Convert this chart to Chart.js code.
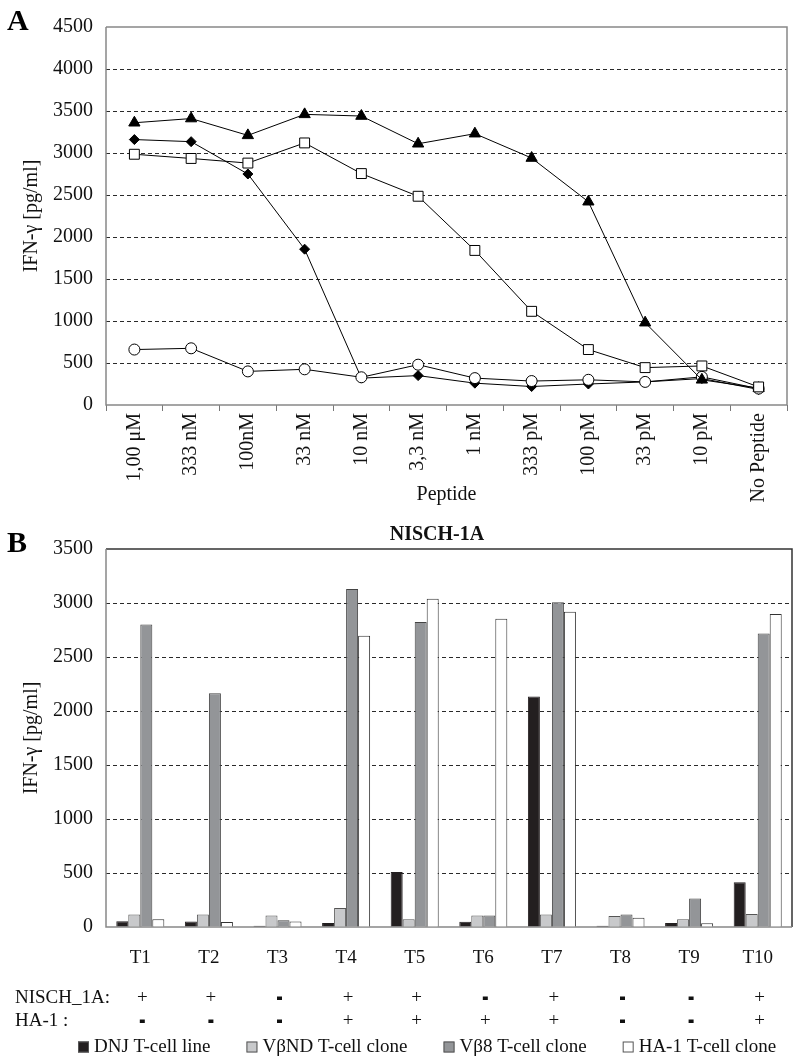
<!DOCTYPE html>
<html>
<head>
<meta charset="utf-8">
<script src="https://cdn.jsdelivr.net/npm/chart.js@4.4.1/dist/chart.umd.min.js"></script>
<style>
  body { margin: 0; background: #fff; }
  #wrap { position: relative; width: 795px; height: 1061px; overflow: hidden; font-family: "Liberation Serif", "Times New Roman", serif; }
  canvas { position: absolute; left: 0; }
  .panel { position: absolute; left: 7px; font-weight: bold; font-size: 30px; line-height: 1; }
</style>
</head>
<body>
<div id="wrap">
  <canvas id="doseChart" width="795" height="512" style="top:0"></canvas>
  <canvas id="tcellChart" width="795" height="541" style="top:520px"></canvas>
  <div class="panel" style="top:5px">A</div>
  <div class="panel" style="top:527px">B</div>
</div>
<script>
// Panel A - peptide titration
const doses = ["1,00 μM", "333 nM", "100nM", "33 nM", "10 nM", "3,3 nM", "1 nM", "333 pM", "100 pM", "33 pM", "10 pM", "No Peptide"];
const triangleValues = [3360, 3410, 3210, 3460, 3440, 3110, 3230, 2940, 2420, 980, 300, 200];
const diamondValues = [3160, 3135, 2750, 1855, 320, 350, 260, 220, 250, 275, 315, 185];
const squareValues = [2985, 2935, 2880, 3120, 2755, 2485, 1840, 1115, 660, 445, 465, 215];
const circleValues = [660, 675, 400, 425, 330, 480, 320, 285, 300, 275, 335, 195];

// Panel B - T-cell clones
const clones = ["T1", "T2", "T3", "T4", "T5", "T6", "T7", "T8", "T9", "T10"];
const dnjLine = [53, 50, 12, 38, 510, 48, 2135, 12, 38, 415];
const vbndClone = [115, 115, 106, 176, 71, 106, 115, 103, 71, 121];
const vb8Clone = [2800, 2165, 62, 3130, 2825, 106, 3008, 115, 263, 2718];
const ha1Clone = [71, 46, 50, 2696, 3040, 2855, 2918, 85, 34, 2897];
const nischRow = ["+", "+", "-", "+", "+", "-", "+", "-", "-", "+"];
const ha1Row = ["-", "-", "-", "+", "+", "+", "+", "-", "-", "+"];

const FONT = '"Liberation Serif", "Times New Roman", Times, serif';
Chart.defaults.font.family = FONT;
Chart.defaults.color = "#111";

const framePlugin = {
  id: "frame",
  beforeDatasetsDraw(chart, args, opts) {
    const { ctx, chartArea: a } = chart;
    ctx.save();
    ctx.lineWidth = 1.5;
    ctx.strokeStyle = opts.boxColor;
    ctx.beginPath();
    ctx.moveTo(a.left, a.top);
    ctx.lineTo(a.right, a.top);
    ctx.lineTo(a.right, a.bottom);
    ctx.stroke();
    ctx.strokeStyle = opts.axisColor;
    ctx.beginPath();
    ctx.moveTo(a.left, a.top);
    ctx.lineTo(a.left, a.bottom);
    ctx.lineTo(a.right, a.bottom);
    ctx.stroke();
    ctx.restore();
  },
};

function hideEnds(max) {
  return (c) => (c.tick.value === 0 || c.tick.value === max ? "rgba(0,0,0,0)" : "#2a2a2a");
}

function yTitle() {
  return { display: true, text: "IFN-γ [pg/ml]", font: { size: 20 }, padding: { top: 20, bottom: 0 } };
}

function drawDoseChart() {
  // Line Graph
  const ctxDose = document.getElementById("doseChart");
  new Chart(ctxDose, {
    type: "line",
    data: {
      labels: doses,
      datasets: [
        { data: squareValues, pointStyle: "rect", pointRadius: 7, pointBackgroundColor: "#fff" },
        { data: triangleValues, pointStyle: "triangle", pointRadius: 6.5, pointBackgroundColor: "#000" },
        { data: circleValues, pointStyle: "circle", pointRadius: 5.5, pointBackgroundColor: "#fff" },
        { data: diamondValues, pointStyle: "rectRot", pointRadius: 5, pointBackgroundColor: "#000" },
      ].map((d) => Object.assign(d, {
        borderColor: "#000",
        borderWidth: 1,
        pointBorderColor: "#000",
        pointBorderWidth: 1,
        tension: 0,
      })),
    },
    options: {
      responsive: false,
      animation: false,
      layout: { padding: { top: 27, right: 3, left: 0, bottom: 0 } },
      plugins: {
        legend: { display: false },
        tooltip: { enabled: false },
        frame: { boxColor: "#888", axisColor: "#888" },
      },
      scales: {
        x: {
          offset: true,
          grid: { offset: true, drawOnChartArea: false, drawTicks: true, tickLength: 6, color: "#777" },
          border: { display: false },
          ticks: { autoSkip: false, maxRotation: 90, minRotation: 90, padding: 2, font: { size: 20 }, color: "#111" },
          title: { display: true, text: "Peptide", font: { size: 20 }, padding: { top: 0, bottom: 5 } },
          afterFit(scale) { scale.height = 107; },
        },
        y: {
          min: 0,
          max: 4500,
          ticks: { stepSize: 500, padding: 13, font: { size: 20 }, color: "#111", callback: (v) => String(v) },
          grid: { drawTicks: false, color: hideEnds(4500), lineWidth: 1 },
          border: { display: false, dash: [4, 3] },
          title: yTitle(),
          afterFit(scale) { scale.width = 106; },
        },
      },
    },
    plugins: [framePlugin],
  });
}

// Table and legend below bar chart
const tablePlugin = {
  id: "table",
  afterDraw(chart) {
    const { ctx } = chart;
    const x = chart.scales.x;
    ctx.save();
    ctx.fillStyle = "#111";
    ctx.textBaseline = "middle";

    ctx.font = "bold 20px " + FONT;
    ctx.textAlign = "center";
    ctx.fillText("NISCH-1A", 437, 15);

    ctx.font = "19px " + FONT;
    ctx.textAlign = "left";
    ctx.fillText("NISCH_1A:", 15, 478);
    ctx.fillText("HA-1 :", 15, 501);
    ctx.textAlign = "center";
    clones.forEach((c, i) => {
      const px = x.getPixelForValue(i) + 2;
      [[nischRow[i], 478], [ha1Row[i], 501]].forEach(([s, py]) => {
        if (s === "+") {
          ctx.fillText("+", px, py);
        } else {
          ctx.fillRect(px - 2.5, py - 1.5, 5, 3.5);
        }
      });
    });

    // legend
    ctx.font = "19px " + FONT;
    ctx.textAlign = "left";
    let lx = 78;
    const ly = 527;
    chart.data.datasets.forEach((ds) => {
      ctx.fillStyle = ds.backgroundColor;
      ctx.fillRect(lx, ly - 5.5, 11, 11);
      ctx.strokeStyle = "#555";
      ctx.lineWidth = 1;
      ctx.strokeRect(lx + 0.5, ly - 5, 10, 10);
      ctx.fillStyle = "#111";
      ctx.fillText(ds.label, lx + 16, ly);
      lx += 16 + ctx.measureText(ds.label).width + 36;
    });
    ctx.restore();
  },
};

function drawTcellChart() {
  // Bar Chart
  const ctxBar = document.getElementById("tcellChart");
  new Chart(ctxBar, {
    type: "bar",
    data: {
      labels: clones,
      datasets: [
        { label: "DNJ T-cell line", data: dnjLine, backgroundColor: "#231f20", borderColor: "#231f20" },
        { label: "VβND T-cell clone", data: vbndClone, backgroundColor: "#c8c9cb", borderColor: "#555" },
        { label: "Vβ8 T-cell clone", data: vb8Clone, backgroundColor: "#939598", borderColor: "#444" },
        { label: "HA-1 T-cell clone", data: ha1Clone, backgroundColor: "#ffffff", borderColor: "#333" },
      ].map((d) => Object.assign(d, {
        borderWidth: 1,
        categoryPercentage: 0.7,
        barPercentage: 1,
      })),
    },
    options: {
      responsive: false,
      animation: false,
      layout: { padding: { top: 29, right: 3, left: 0, bottom: 0 } },
      plugins: {
        legend: { display: false },
        tooltip: { enabled: false },
        frame: { boxColor: "#333", axisColor: "#888" },
      },
      scales: {
        x: {
          grid: { display: false },
          border: { display: false },
          ticks: { padding: 12, font: { size: 19 }, color: "#111" },
          afterFit(scale) { scale.height = 134; },
        },
        y: {
          min: 0,
          max: 3500,
          ticks: { stepSize: 500, padding: 13, font: { size: 20 }, color: "#111", callback: (v) => String(v) },
          grid: { drawTicks: false, color: hideEnds(3500), lineWidth: 1 },
          border: { display: false, dash: [4, 3] },
          title: yTitle(),
          afterFit(scale) { scale.width = 106; },
        },
      },
    },
    plugins: [framePlugin, tablePlugin],
  });
}

function drawAll() {
  drawDoseChart();
  drawTcellChart();
}

if (document.fonts && document.fonts.load) {
  Promise.all([
    document.fonts.load('20px "Liberation Serif"'),
    document.fonts.load('bold 20px "Liberation Serif"'),
  ]).then(drawAll, drawAll);
} else {
  drawAll();
}
</script>
</body>
</html>
